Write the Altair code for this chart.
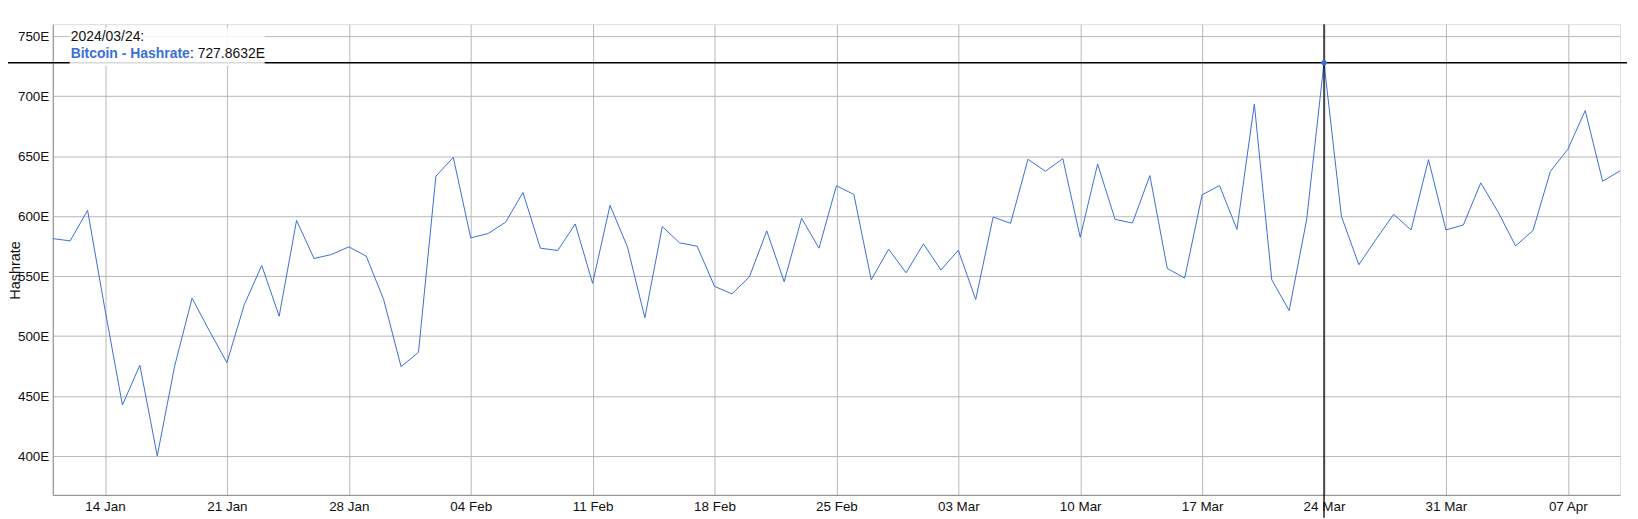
import altair as alt
import pandas as pd

# ---- data ----
start_date = "2024-01-11"
hashrate = [
    # Jan 11 - Jan 31
    581.3, 579.4, 604.8, 522.0, 442.6, 475.7, 400.2, 475.2, 531.6, 504.2, 477.9,
    526.3, 558.9, 516.6, 596.5, 564.7, 568.0, 574.4, 566.7, 530.5, 474.6,
    # Feb 1 - Feb 29
    486.5, 633.3, 649.0, 581.9, 585.5, 594.9, 619.7, 573.3, 571.4, 593.5,
    544.0, 609.0, 574.4, 515.3, 591.3, 577.7, 575.0, 541.5, 535.2, 549.3,
    587.7, 545.4, 598.2, 573.3, 625.3, 618.1, 547.0, 572.5, 552.8,
    # Mar 1 - Mar 31
    576.9, 555.1, 571.6, 530.5, 599.3, 594.0, 647.4, 637.4, 647.9, 582.4,
    643.5, 597.3, 594.3, 633.8, 556.4, 548.4, 617.8, 625.5, 589.0, 693.5,
    547.0, 521.3, 596.8, 727.8632, 599.8, 559.5, 581.0, 601.5, 588.5, 647.1,
    588.5,
    # Apr 1 - Apr 10
    592.6, 627.7, 603.4, 575.2, 588.0, 637.4, 655.7, 688.0, 629.1, 637.7,
]
y_ticks = [400, 450, 500, 550, 600, 650, 700, 750]
x_ticks = ["2024-01-14", "2024-01-21", "2024-01-28", "2024-02-04", "2024-02-11",
           "2024-02-18", "2024-02-25", "2024-03-03", "2024-03-10", "2024-03-17",
           "2024-03-24", "2024-03-31", "2024-04-07"]
hover_date = "2024-03-24"
hover_value = 727.8632
legend_date = "2024/03/24:"
legend_series = "Bitcoin - Hashrate"
legend_value = ": 727.8632E"

dates = pd.date_range(start_date, periods=len(hashrate), freq="D").strftime("%Y-%m-%d")
df = pd.DataFrame({"date": dates, "value": hashrate})
hover_df = pd.DataFrame({"date": [hover_date], "value": [hover_value]})

BLUE = "#3b6fd6"
FONT = "Liberation Sans"


def dt(s):
    y, m, d = (int(p) for p in s.split("-"))
    return alt.DateTime(year=y, month=m, date=d, utc=True)


x_scale = alt.Scale(type="utc", domain=[dt(start_date), dt(dates[-1])], nice=False)
y_scale = alt.Scale(domain=[367.7, 760], nice=False, zero=False)

x_enc = alt.X(
    "date:T",
    scale=x_scale,
    axis=alt.Axis(
        values=[dt(s) for s in x_ticks],
        format="%d %b",
        title=None,
        ticks=False,
        tickSize=0,
        labelPadding=5,
        labelFontSize=13.5,
        labelFont=FONT,
        labelColor="#111",
        domainColor="#888",
        gridColor="#b8b8b8",
        labelFlush=False,
    ),
)
y_enc = alt.Y(
    "value:Q",
    scale=y_scale,
    axis=alt.Axis(
        values=y_ticks,
        labelExpr="datum.label + 'E'",
        format="d",
        title="Hashrate",
        titleFont=FONT,
        titleFontSize=14.5,
        titleFontWeight="normal",
        titleColor="#111",
        titleAngle=270,
        titleAlign="center",
        titleBaseline="alphabetic",
        titleX=-33,
        titleY=247,
        ticks=False,
        tickSize=0,
        labelPadding=4,
        labelFontSize=13.5,
        labelFont=FONT,
        labelColor="#111",
        domainColor="#888",
        gridColor="#b8b8b8",
    ),
)

line = alt.Chart(df).mark_line(color=BLUE, strokeWidth=1).encode(x=x_enc, y=y_enc)

vrule = alt.Chart(hover_df).mark_rule(color="black", strokeWidth=1.3).encode(
    x=alt.X("date:T", scale=x_scale),
    y=alt.value(0),
    y2=alt.value(496),
)
hrule = alt.Chart(hover_df).mark_rule(color="black", strokeWidth=1.3).encode(
    y=alt.Y("value:Q", scale=y_scale),
    x=alt.value(-53),
    x2=alt.value(1582),
)
dot = alt.Chart(hover_df).mark_circle(color=BLUE, size=28, opacity=1).encode(
    x=alt.X("date:T", scale=x_scale),
    y=alt.Y("value:Q", scale=y_scale),
)

box = alt.Chart(hover_df).mark_rect(fill="white", opacity=0.85).encode(
    x=alt.value(17), x2=alt.value(213), y=alt.value(4), y2=alt.value(42)
)
t1 = alt.Chart(hover_df).mark_text(
    align="left", baseline="alphabetic", font=FONT, fontSize=14, color="#111"
).encode(x=alt.value(18), y=alt.value(17), text=alt.value(legend_date))
t2 = alt.Chart(hover_df).mark_text(
    align="left", baseline="alphabetic", font=FONT, fontSize=14, fontWeight="bold", color=BLUE
).encode(x=alt.value(18), y=alt.value(34), text=alt.value(legend_series))
t3 = alt.Chart(hover_df).mark_text(
    align="left", baseline="alphabetic", font=FONT, fontSize=14, color="#111"
).encode(x=alt.value(137.8), y=alt.value(34), text=alt.value(legend_value))

chart = (
    alt.layer(line, vrule, hrule, dot, box, t1, t2, t3)
    .properties(
        width=1575,
        height=473,
        autosize=alt.AutoSizeParams(type="none"),
        padding={"left": 45, "top": 15, "right": 10, "bottom": 23},
    )
    .configure_view(stroke=None)
    .configure(background="white")
)

chart.save("out.html", embed_options={"renderer": "svg", "actions": False})
